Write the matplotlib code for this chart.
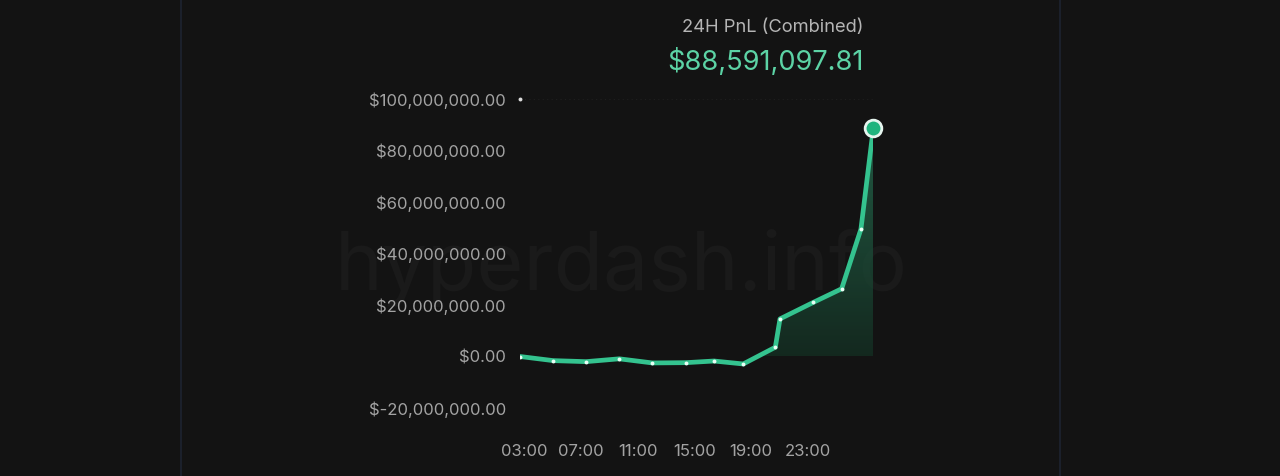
import matplotlib
matplotlib.use("Agg")
import matplotlib.pyplot as plt
import numpy as np
from matplotlib.ticker import FuncFormatter
from matplotlib.colors import LinearSegmentedColormap

# ---- data ----
hours = [2.72, 5.06, 7.37, 9.71, 12.04, 14.39, 16.38, 18.44, 20.70, 21.03, 23.37, 25.37, 26.73, 27.60]
pnl = [0.0, -1.6e6, -2.0e6, -0.9e6, -2.5e6, -2.4e6, -1.75e6, -2.9e6, 3.6e6, 14.6e6, 21.0e6, 26.3e6, 49.5e6, 88591097.81]
xtick_hours = [3, 7, 11, 15, 19, 23]
xtick_labels = ["03:00", "07:00", "11:00", "15:00", "19:00", "23:00"]
ytick_values = [-20e6, 0, 20e6, 40e6, 60e6, 80e6, 100e6]
title_text = "24H PnL (Combined)"
value_text = "$88,591,097.81"
watermark = "hyperdash.info"

BG = "#131313"
GREEN = "#34c38f"
TEXT_GREEN = "#5cd3a5"
GRAY = "#a3a3a3"

plt.rcParams['font.family'] = ['Inter', 'DejaVu Sans']

W, H = 1280, 476
fig = plt.figure(figsize=(W / 100, H / 100), dpi=100, facecolor=BG)

def fx(px):
    return px / W

def fy(py):
    return 1 - py / H

# faint panel border lines
for px in (181, 1060):
    fig.add_artist(plt.Line2D([fx(px), fx(px)], [0, 1], color="#1d2330", lw=1.2, zorder=-10))

# watermark (behind everything)
fig.text(fx(621), fy(268), watermark, color="#1a1a1a", fontsize=58,
         ha="center", va="center", zorder=-5)

left, right, top, bottom = 520, 873.3, 99, 408
ax = fig.add_axes([fx(left), fy(bottom), fx(right - left), (bottom - top) / H])
ax.set_zorder(1)
ax.set_facecolor("none")
ax.set_xlim(hours[0], hours[-1])
ax.set_ylim(-20e6, 100e6)
for s in ax.spines.values():
    s.set_visible(False)

# very faint top dotted gridline
ax.axhline(100e6, color="#1f1f1f", lw=0.8, ls=(0, (1, 3)), zorder=1)

# gradient fill under line (above zero)
x = np.array(hours)
y = np.array(pnl)
poly = ax.fill_between(x, 0, y, color="none", lw=0)
cmap = LinearSegmentedColormap.from_list("g", [(0.08, 0.19, 0.14, 1.0), (0.16, 0.48, 0.35, 1.0)])
grad = np.linspace(0, 1, 256).reshape(-1, 1)
im = ax.imshow(grad, extent=[hours[0], hours[-1], 0, 100e6], origin="lower",
               aspect="auto", cmap=cmap, alpha=0.75, zorder=2)
path = poly.get_paths()[0]
im.set_clip_path(path, transform=ax.transData)

# line
ax.plot(x, y, color=GREEN, lw=3.4, solid_joinstyle="round", solid_capstyle="round", zorder=3)
ax.plot(x[:-1], y[:-1], ls="none", marker="o", ms=2.8, color="#eafff6", mec="none", zorder=4)
ax.plot([x[-1]], [y[-1]], ls="none", marker="o", ms=12, mfc="#1fb47e", mec="#e6f5ef",
        mew=2, zorder=5, clip_on=False)
# small dot at axis top
ax.plot([hours[0]], [100e6], ls="none", marker="o", ms=2.8, color="#dddddd", mec="none",
        zorder=4, clip_on=False)

def money(v, pos=None):
    if v == 0:
        return "$0.00"
    if v < 0:
        return "$-{:,.2f}".format(-v)
    return "${:,.2f}".format(v)

ax.set_yticks(ytick_values)
ax.yaxis.set_major_formatter(FuncFormatter(money))
ax.set_xticks(xtick_hours)
ax.set_xticklabels(xtick_labels)
ax.tick_params(axis="y", length=0, pad=10, labelsize=12, labelcolor=GRAY)
ax.tick_params(axis="x", length=0, pad=26, labelsize=12, labelcolor=GRAY)

fig.text(fx(864), fy(28), title_text, color="#b5b5b5", fontsize=13.2, ha="right", va="center")
fig.text(fx(864), fy(62), value_text, color=TEXT_GREEN, fontsize=19.6, ha="right", va="center")

fig.savefig("out.png", dpi=100, facecolor=BG)
